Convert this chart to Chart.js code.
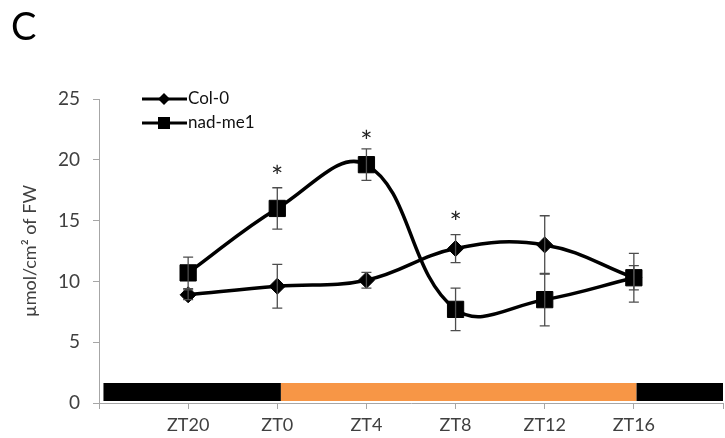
<!DOCTYPE html>
<html>
<head>
<meta charset="utf-8">
<script src="https://cdn.jsdelivr.net/npm/chart.js@4/dist/chart.umd.min.js"></script>
<style>
  html, body { margin: 0; padding: 0; background: #fff; }
  #wrap { position: relative; width: 725px; height: 438px; }
  #panel { position: absolute; left: 11px; top: 2px; font: 38px Lato, sans-serif; color: #000; }
</style>
</head>
<body>
<div id="wrap">
  <canvas id="myChart" width="725" height="438"></canvas>
  <div id="panel">C</div>
</div>
<script>
// Data
var xLabels = ['ZT20', 'ZT0', 'ZT4', 'ZT8', 'ZT12', 'ZT16'];
var colValues = [8.9, 9.6, 10.1, 12.7, 13.0, 10.3];
var colErrors = [0.4, 1.8, 0.65, 1.15, 2.4, 1.0];
var nadValues = [10.7, 16.0, 19.6, 7.7, 8.5, 10.3];
var nadErrors = [1.3, 1.7, 1.3, 1.75, 2.15, 2.0];
var starValues = [null, 19.0, 21.9, 15.2, null, null];
var yTicks = [0, 5, 10, 15, 20, 25];
var darkPeriods = [[0.05, 2.04], [6.03, 7.03]];
var lightPeriods = [[2.04, 6.03]];
var periodLevel = 0.9;

function pts(vals) {
    return vals.map(function (v, i) { return { x: i + 1, y: v }; });
}
function span(r) {
    return [{ x: r[0], y: periodLevel }, { x: r[1], y: periodLevel }];
}

// Error bars + asterisks
var extras = {
    id: 'extras',
    afterDatasetsDraw: function (chart) {
        var ctx = chart.ctx, xs = chart.scales.x, ys = chart.scales.y;
        ctx.save();
        ctx.strokeStyle = '#4d4d4d';
        ctx.lineWidth = 1.3;
        [[colValues, colErrors], [nadValues, nadErrors]].forEach(function (s) {
            s[0].forEach(function (v, i) {
                var px = xs.getPixelForValue(i + 1);
                var top = ys.getPixelForValue(v + s[1][i]);
                var bot = ys.getPixelForValue(v - s[1][i]);
                ctx.beginPath();
                ctx.moveTo(px, top); ctx.lineTo(px, bot);
                ctx.moveTo(px - 5, top); ctx.lineTo(px + 5, top);
                ctx.moveTo(px - 5, bot); ctx.lineTo(px + 5, bot);
                ctx.stroke();
            });
        });
        ctx.fillStyle = '#222';
        ctx.font = '29px Lato';
        ctx.textAlign = 'center';
        ctx.textBaseline = 'alphabetic';
        starValues.forEach(function (v, i) {
            if (v === null) return;
            ctx.fillText('*', xs.getPixelForValue(i + 1), ys.getPixelForValue(v) + 15);
        });
        ctx.restore();
    }
};

// Legend (line + marker)
var lineLegend = {
    id: 'lineLegend',
    afterDraw: function (chart) {
        var ctx = chart.ctx;
        var items = [['Col-0', 'diamond', 99], ['nad-me1', 'square', 123]];
        ctx.save();
        items.forEach(function (it) {
            var y = it[2];
            ctx.strokeStyle = '#000';
            ctx.lineWidth = 3;
            ctx.beginPath();
            ctx.moveTo(142, y); ctx.lineTo(187, y);
            ctx.stroke();
            ctx.fillStyle = '#000';
            ctx.beginPath();
            if (it[1] === 'diamond') {
                ctx.moveTo(164, y - 6); ctx.lineTo(170, y); ctx.lineTo(164, y + 6); ctx.lineTo(158, y);
                ctx.closePath();
            } else {
                ctx.rect(158, y - 6, 12, 12);
            }
            ctx.fill();
            ctx.fillStyle = '#111';
            ctx.font = '17px Lato';
            ctx.textAlign = 'left';
            ctx.textBaseline = 'middle';
            ctx.fillText(it[0], 188, y);
        });
        ctx.restore();
    }
};

var datasets = [
    {
        label: 'Col-0',
        data: pts(colValues),
        borderColor: '#000',
        backgroundColor: '#000',
        borderWidth: 3.5,
        tension: 0.4,
        pointStyle: 'rectRot',
        pointRadius: 8,
        pointBorderWidth: 1
    },
    {
        label: 'nad-me1',
        data: pts(nadValues),
        borderColor: '#000',
        backgroundColor: '#000',
        borderWidth: 3.5,
        tension: 0.4,
        pointStyle: 'rect',
        pointRadius: 11.5,
        pointBorderWidth: 1
    }
];
darkPeriods.forEach(function (r) {
    datasets.push({ data: span(r), borderColor: '#000', borderWidth: 18, borderCapStyle: 'butt', pointRadius: 0 });
});
lightPeriods.forEach(function (r) {
    datasets.push({ data: span(r), borderColor: '#f79646', borderWidth: 18, borderCapStyle: 'butt', pointRadius: 0 });
});

new Chart('myChart', {
    type: 'line',
    data: { datasets: datasets },
    plugins: [extras, lineLegend],
    options: {
        responsive: false,
        animation: false,
        layout: { autoPadding: false, padding: { top: 99, right: 2, left: 0, bottom: 0 } },
        plugins: {
            legend: { display: false },
            tooltip: { enabled: false }
        },
        scales: {
            x: {
                type: 'linear',
                min: 0,
                max: 7,
                afterBuildTicks: function (scale) {
                    scale.ticks = [0, 1, 2, 3, 4, 5, 6, 7].map(function (v) { return { value: v }; });
                },
                afterFit: function (scale) {
                    scale.height = 35;
                    scale.paddingLeft = 0;
                    scale.paddingRight = 0;
                },
                ticks: {
                    callback: function (v) { return xLabels[v - 1] || ''; },
                    font: { family: 'Lato', size: 18 },
                    color: '#404040',
                    padding: 5,
                    maxRotation: 0,
                    autoSkip: false
                },
                grid: { drawOnChartArea: false, tickLength: 6, color: '#a6a6a6' },
                border: { color: '#a6a6a6' }
            },
            y: {
                min: 0,
                max: 25,
                afterBuildTicks: function (scale) {
                    scale.ticks = yTicks.map(function (v) { return { value: v }; });
                },
                afterFit: function (scale) { scale.width = 99; },
                ticks: {
                    font: { family: 'Lato', size: 19 },
                    color: '#404040',
                    padding: 13
                },
                grid: { drawOnChartArea: false, tickLength: 6, color: '#a6a6a6' },
                border: { color: '#a6a6a6' },
                title: {
                    display: true,
                    text: 'µmol/cm² of FW',
                    font: { family: 'Lato', size: 18 },
                    color: '#404040',
                    padding: { top: 19, bottom: 0 }
                }
            }
        }
    }
});
</script>
</body>
</html>
